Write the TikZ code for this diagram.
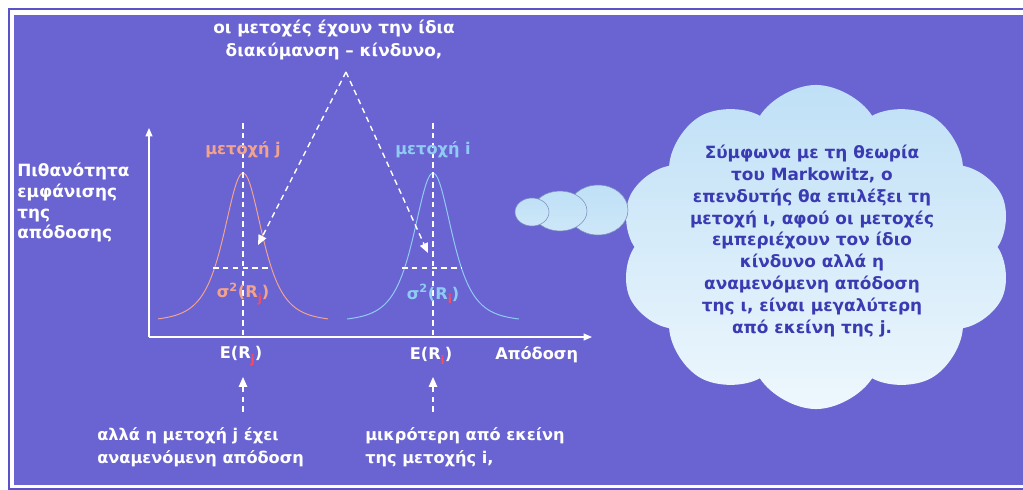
\documentclass[tikz,border=0pt]{standalone}
\usepackage{fontspec}
\setmainfont{DejaVu Sans}
\usepackage{xcolor}
\usetikzlibrary{arrows.meta,shapes.symbols}
\definecolor{slideBg}{HTML}{6A63D2}
\definecolor{slideLine}{HTML}{5A52C8}
\definecolor{stockJ}{HTML}{F2A38E}
\definecolor{stockI}{HTML}{8FCBF2}
\definecolor{subRed}{HTML}{FF4A5A}
\definecolor{cloudTop}{HTML}{BFE0F6}
\definecolor{cloudBot}{HTML}{EEF7FD}
\definecolor{cloudInk}{HTML}{3A3AB2}
\definecolor{cloudEdge}{HTML}{7F8FC0}
\newcommand{\rsub}[1]{\raisebox{-0.5ex}{\fontsize{8.5}{8.5}\selectfont\color{subRed}#1}}

\begin{document}
\begin{tikzpicture}[x=0.025cm, y=-0.025cm,
  font=\fontsize{11.5}{14.5}\selectfont\bfseries,
  lbl/.style={text=white, inner sep=0pt},
  guide/.style={white, line width=1pt, dash pattern=on 4pt off 3pt},
  pointer/.style={guide, -{Triangle[length=7pt,width=6pt]}},
  axis/.style={white, line width=0.8pt, -{Triangle[length=6pt,width=5pt]}},
  curve/.style={line width=0.7pt}]
\useasboundingbox (0,0) rectangle (1023,489);
\fill[white] (0,0) rectangle (1023,489);
\draw[slideLine, line width=1.5pt] (9,9) rectangle (1040,489);
\fill[slideBg] (14,15) rectangle (1035,485);
% axes
\coordinate (O) at (149,337);
\coordinate (ytip) at (149,128);
\coordinate (xtip) at (592,337);
\draw[axis] (O) -- (ytip);
\draw[axis] (O) -- (xtip);
% the two distributions
\draw[stockJ, curve] plot[domain=-85:85, samples=90, smooth] ({243+\x},{322-149/((1+\x*\x/1225)*(1+\x*\x/1225))});
\draw[stockI, curve] plot[domain=-86:86, samples=90, smooth] ({433+\x},{322-149/((1+\x*\x/1225)*(1+\x*\x/1225))});
\coordinate (topJ) at (243,123);
\coordinate (meanJ) at (243,337);
\coordinate (topI) at (433,123);
\coordinate (meanI) at (433,337);
\draw[guide] (topJ) -- (meanJ);
\draw[guide] (topI) -- (meanI);
\coordinate (wlJ) at (213,268);
\coordinate (wrJ) at (272,268);
\coordinate (wlI) at (402,268);
\coordinate (wrI) at (462,268);
\draw[guide] (wlJ) -- (wrJ);
\draw[guide] (wlI) -- (wrI);
\node[inner sep=0pt, text=stockJ] (tagJ) at (243,150) {μετοχή j};
\node[inner sep=0pt, text=stockI] (tagI) at (433,150) {μετοχή i};
\node[inner sep=0pt, text=stockJ] (varJ) at (243,294) {σ\textsuperscript{2}(R\rsub{j})};
\node[inner sep=0pt, text=stockI] (varI) at (433,294) {σ\textsuperscript{2}(R\rsub{i})};
\node[lbl] (ERj) at (241,356) {E(R\rsub{j})};
\node[lbl] (ERi) at (431,356) {E(R\rsub{i})};
\node[lbl, anchor=west] (ret) at (495,355) {Απόδοση};
\node[lbl, anchor=north west, align=left, font=\fontsize{12}{14.7}\selectfont\bfseries] (prob) at (17,163) {Πιθανότητα\\εμφάνισης\\της\\απόδοσης};
% top note
\node[lbl, align=center, font=\fontsize{12}{16.3}\selectfont\bfseries] (note) at (334,40) {οι μετοχές έχουν την ίδια\\διακύμανση – κίνδυνο,};
\coordinate (fork) at (346,72);
\coordinate (hitJ) at (258,245);
\coordinate (hitI) at (428,253);
\draw[pointer] (fork) -- (hitJ);
\draw[pointer] (fork) -- (hitI);
% bottom notes
\coordinate (footJ) at (243,412);
\coordinate (headJ) at (243,377);
\coordinate (footI) at (433,412);
\coordinate (headI) at (433,377);
\draw[pointer] (footJ) -- (headJ);
\draw[pointer] (footI) -- (headI);
\node[lbl, anchor=north west, align=left, font=\fontsize{11.5}{16.3}\selectfont\bfseries] (gapJ) at (97,427) {αλλά η μετοχή j έχει\\αναμενόμενη απόδοση};
\node[lbl, anchor=north west, align=left, font=\fontsize{11.5}{16.3}\selectfont\bfseries] (gapI) at (365,427) {μικρότερη από εκείνη\\της μετοχής i,};
% thought cloud
\node[cloud, cloud puffs=10, cloud puff arc=115, aspect=1.2, minimum width=9.8cm, minimum height=8.1cm,
  top color=cloudTop, bottom color=cloudBot, draw=none] (bubble) at (816,247) {};
\foreach \cx/\cy/\rx/\ry in {598/210/30/25, 560/211/27/20, 532/212/17/14}
  \draw[cloudEdge, line width=0.4pt, top color=cloudTop, bottom color=cloudTop!70!cloudBot] (\cx,\cy) ellipse [x radius=\rx, y radius=\ry];
\node[text=cloudInk, align=center, inner sep=0pt, font=\fontsize{12}{15.6}\selectfont\bfseries] (thought) at (812,241)
  {Σύμφωνα με τη θεωρία\\του Markowitz, ο\\επενδυτής θα επιλέξει τη\\μετοχή ι, αφού οι μετοχές\\εμπεριέχουν τον ίδιο\\κίνδυνο αλλά η\\αναμενόμενη απόδοση\\της ι, είναι μεγαλύτερη\\από εκείνη της j.};
\end{tikzpicture}
\end{document}
